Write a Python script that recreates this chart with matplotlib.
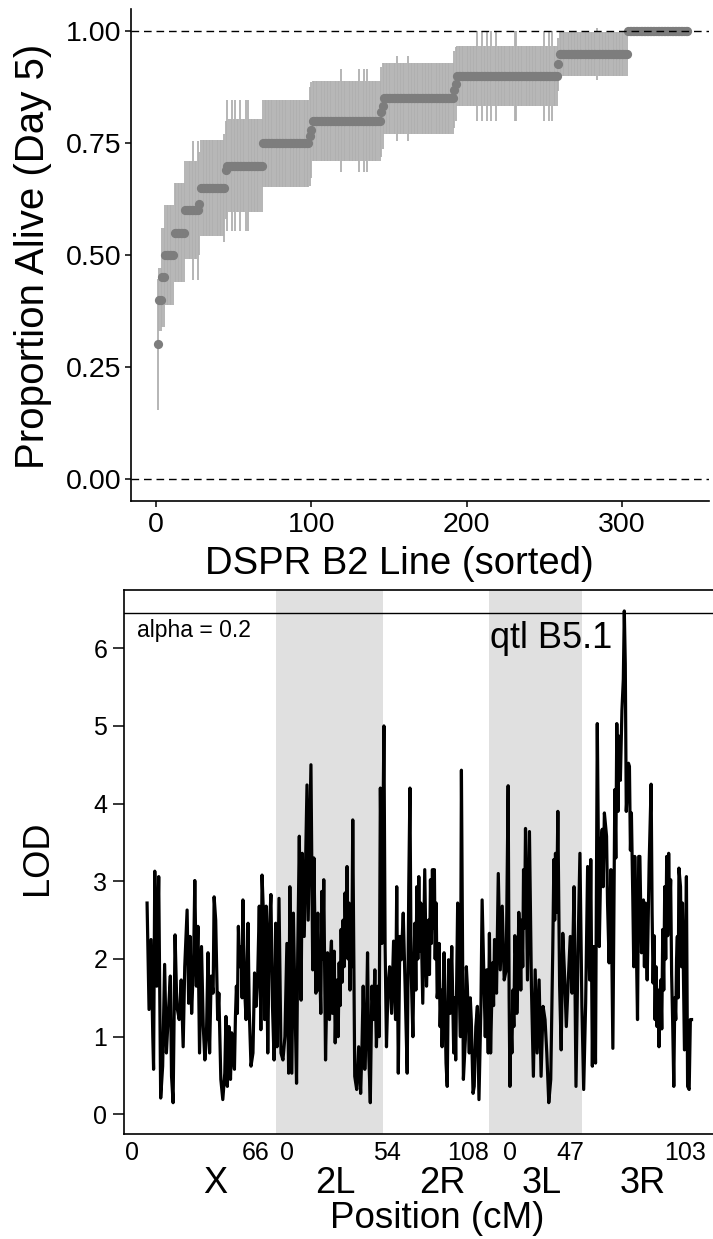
import numpy as np
import matplotlib
matplotlib.use("Agg")
import matplotlib.pyplot as plt
from matplotlib import transforms

plt.rcParams['font.family'] = ['Liberation Sans', 'DejaVu Sans']

# ---- top panel: proportion alive at day 5, lines sorted by value ----
levels = [0.30, 0.40, 0.45, 0.50, 0.55, 0.60, 0.615, 0.65, 0.69, 0.70, 0.75, 0.765,
          0.78, 0.80, 0.82, 0.833, 0.85, 0.87, 0.883, 0.90, 0.926, 0.95, 1.00]
counts = [1, 2, 2, 6, 7, 9, 1, 16, 1, 23, 30, 1, 1, 44, 1, 1, 45, 1, 1, 65, 1, 44, 39]
level_se = [0.146, 0.07, 0.111, 0.112, 0.111, 0.11, 0.115, 0.107, 0.11, 0.103, 0.097, 0.11,
            0.107, 0.089, 0.10, 0.096, 0.080, 0.087, 0.083, 0.067, 0.06, 0.049, 0.0]
# lines with a longer bar than the rest of their level (rank, se)
wide_rank = [24, 27, 44, 46, 49, 51, 54, 58, 59, 119, 131, 134, 136, 155, 162,
             207, 210, 213, 216, 219, 231, 232, 250, 253, 255, 284]
wide_se = [0.155, 0.155, 0.12, 0.147, 0.147, 0.147, 0.147, 0.147, 0.147, 0.115, 0.115, 0.115,
           0.115, 0.095, 0.095, 0.10, 0.10, 0.10, 0.10, 0.10, 0.10, 0.10, 0.10, 0.10, 0.10, 0.058]
top_xticks = [0, 100, 200, 300]
top_yticks = [0.00, 0.25, 0.50, 0.75, 1.00]

# ---- bottom panel: LOD scan, (cumulative cM, LOD) ----
arm_names = ["X", "2L", "2R", "3L", "3R"]
arm_ends = [66, 120, 174, 221, 277]

scan_X = [(0.5, 2.72), (1.5, 1.35), (2.5, 2.25), (3.4, 1.00), (3.8, 0.58), (4.4, 3.13), (5.4, 1.65),
          (6.4, 3.06), (7.4, 0.21), (8.4, 0.62), (9.4, 1.93), (10.3, 0.79), (11.3, 1.30), (12.3, 1.78),
          (12.9, 0.49), (13.7, 0.15), (14.7, 2.31), (15.6, 1.39), (16.8, 1.22), (17.8, 1.73),
          (18.8, 0.87), (19.6, 1.90), (20.8, 2.63), (21.6, 1.43), (22.3, 2.29), (23.1, 1.30),
          (24.1, 1.99), (24.7, 3.01), (25.5, 1.65), (26.3, 2.42), (27.1, 0.79), (28.1, 2.16),
          (29.0, 1.13), (29.8, 0.70), (30.6, 1.00), (31.4, 2.08), (32.2, 0.79), (33.0, 1.78),
          (34.0, 1.56), (34.5, 2.80), (35.3, 2.50), (36.3, 1.22), (36.9, 1.56), (37.9, 0.45),
          (38.9, 0.19), (39.9, 0.53), (40.5, 1.26), (41.2, 0.36), (42.0, 1.13), (42.8, 0.45),
          (43.4, 1.05), (44.0, 0.79), (44.8, 0.58), (45.3, 1.25), (45.8, 1.65), (46.3, 1.30),
          (46.8, 2.42), (47.5, 1.90), (48.3, 2.16), (48.7, 1.50), (49.1, 2.76), (49.9, 1.65),
          (50.7, 1.22), (51.7, 2.46), (52.3, 1.35), (53.2, 0.62), (54.2, 0.79), (55.0, 1.82),
          (55.8, 1.39), (56.6, 1.78), (57.4, 2.68), (58.2, 1.09), (58.8, 3.08), (59.5, 2.59),
          (60.1, 1.22), (60.9, 2.68), (61.7, 0.79), (62.5, 2.38), (63.3, 2.83), (64.1, 1.39),
          (64.9, 0.70), (65.7, 2.46), (66.4, 0.87)]
scan_2L = [(67.4, 2.78), (68.4, 0.79), (69.4, 0.70), (70.4, 1.00), (71.4, 2.20), (72.3, 0.53),
           (72.9, 2.93), (73.9, 0.53), (74.7, 2.59), (75.5, 1.43), (76.3, 0.40), (76.9, 2.08),
           (77.7, 3.58), (78.6, 1.47), (79.2, 3.36), (80.2, 2.29), (81.6, 4.24), (82.2, 2.50),
           (83.6, 4.50), (84.5, 1.86), (85.1, 3.30), (86.1, 1.56), (87.1, 2.59), (87.6, 1.60),
           (88.1, 1.86), (88.6, 1.30), (89.1, 2.87), (89.6, 2.00), (90.1, 3.02), (91.0, 0.70),
           (92.0, 2.08), (92.5, 1.40), (93.0, 1.22), (93.5, 2.00), (94.0, 2.23), (94.5, 1.30),
           (95.0, 1.65), (95.4, 2.10), (95.9, 0.92), (96.4, 1.50), (96.9, 1.73), (97.4, 1.00),
           (97.9, 1.95), (98.4, 1.40), (98.9, 2.38), (99.4, 1.70), (99.9, 2.50), (100.4, 1.90),
           (100.9, 2.85), (101.4, 2.20), (101.9, 3.19), (102.4, 2.00), (102.9, 2.72), (103.4, 1.60),
           (103.8, 2.42), (104.3, 1.90), (104.8, 3.79), (105.8, 0.49), (106.8, 0.32), (107.8, 0.87),
           (108.8, 0.27), (109.4, 0.79), (110.1, 1.65), (110.9, 0.58), (111.7, 1.13), (112.3, 2.08),
           (112.9, 0.79), (113.7, 0.15), (114.5, 1.65), (115.3, 1.22), (116.0, 1.86), (116.8, 0.87),
           (117.6, 1.65), (118.2, 1.00), (118.8, 4.20), (119.6, 2.20)]
scan_2R = [(120.6, 5.00), (121.2, 2.16), (121.9, 0.87), (122.7, 1.65), (123.5, 1.90), (124.5, 1.30),
           (125.5, 2.23), (126.5, 1.22), (127.1, 2.93), (127.9, 0.53), (128.7, 2.29), (129.4, 1.99),
           (130.4, 2.59), (131.4, 1.60), (132.4, 0.53), (133.2, 2.93), (133.8, 4.20), (134.4, 1.86),
           (135.3, 1.00), (135.8, 1.90), (136.3, 2.46), (136.8, 1.60), (137.3, 2.93), (137.8, 2.00),
           (138.3, 3.06), (138.8, 2.10), (139.3, 2.72), (140.3, 1.43), (141.3, 3.15), (142.2, 1.65),
           (143.2, 2.50), (143.7, 1.80), (144.2, 3.02), (144.7, 2.20), (145.2, 3.15), (145.7, 2.40),
           (146.2, 3.15), (146.6, 2.00), (147.1, 2.72), (147.6, 1.50), (148.1, 1.65), (148.6, 2.20),
           (149.1, 1.13), (149.6, 1.60), (150.1, 0.87), (150.6, 1.40), (151.1, 2.08), (152.1, 0.66),
           (152.7, 0.36), (153.4, 1.99), (154.2, 1.30), (155.0, 2.16), (156.0, 0.79), (156.5, 1.50),
           (157.0, 0.70), (158.0, 2.72), (158.6, 1.86), (159.4, 1.00), (159.9, 4.43), (160.9, 0.45),
           (161.9, 0.96), (162.4, 1.90), (162.9, 1.65), (163.9, 0.79), (164.4, 1.50), (164.9, 1.22),
           (165.8, 0.27), (166.4, 0.36), (167.2, 1.13), (168.0, 1.39), (168.8, 0.19), (169.8, 1.39),
           (170.4, 2.76), (171.2, 1.86), (172.0, 1.00), (172.7, 1.86), (173.5, 0.79), (174.1, 2.33)]
scan_3L = [(174.7, 0.79), (175.7, 1.95), (176.2, 1.40), (176.7, 2.25), (177.7, 1.56), (178.6, 3.10),
           (179.6, 1.86), (180.6, 2.68), (181.6, 1.73), (182.6, 1.86), (183.6, 4.23), (184.1, 1.50),
           (184.5, 0.36), (185.0, 1.20), (185.5, 0.79), (186.0, 1.60), (186.5, 1.13), (187.0, 2.30),
           (187.5, 1.99), (188.0, 1.30), (188.5, 1.73), (189.0, 2.60), (189.5, 2.29), (190.0, 1.60),
           (190.5, 2.50), (191.0, 1.90), (191.4, 3.15), (191.9, 2.40), (192.4, 3.68), (193.4, 1.73),
           (194.4, 3.64), (195.4, 1.65), (196.4, 0.49), (197.3, 1.86), (198.3, 0.79), (199.3, 1.73),
           (200.3, 0.49), (201.3, 1.39), (202.3, 1.22), (203.2, 0.79), (204.2, 0.15), (205.2, 0.45),
           (205.7, 1.30), (206.2, 2.08), (206.8, 3.28), (207.2, 2.50), (207.6, 3.36), (208.2, 2.60),
           (208.8, 3.90), (209.7, 1.65), (210.5, 0.83), (211.3, 2.33), (212.1, 1.86), (213.1, 1.13),
           (214.1, 1.73), (215.1, 2.29), (216.0, 1.56), (217.0, 2.93), (218.0, 0.36), (219.0, 2.08),
           (220.0, 3.36), (221.0, 1.39)]
scan_3R = [(221.9, 0.32), (222.9, 1.43), (223.9, 3.19), (224.9, 1.73), (225.5, 3.28), (226.3, 0.62),
           (226.9, 2.16), (227.9, 0.66), (228.8, 5.03), (229.8, 2.16), (230.8, 3.53), (231.3, 3.67),
           (231.8, 2.93), (232.4, 3.88), (233.5, 3.58), (234.0, 2.72), (234.8, 1.95), (235.7, 3.15),
           (236.7, 0.85), (237.7, 4.18), (238.2, 3.30), (238.7, 5.03), (239.3, 3.90), (239.7, 4.87),
           (240.5, 4.30), (241.3, 5.20), (242.0, 5.60), (242.5, 6.48), (243.0, 5.80), (243.5, 3.90),
           (244.6, 4.52), (245.1, 4.48), (245.6, 3.40), (246.1, 3.88), (246.8, 2.80), (247.3, 1.90),
           (247.8, 3.32), (248.4, 2.50), (249.2, 1.22), (249.8, 3.32), (250.4, 3.32), (251.2, 2.08),
           (252.2, 2.76), (252.7, 1.90), (253.2, 2.72), (254.1, 1.73), (255.1, 3.23), (256.1, 4.25),
           (256.6, 2.60), (257.1, 1.69), (257.6, 2.30), (258.1, 1.22), (258.6, 1.90), (259.1, 1.13),
           (259.6, 1.60), (260.1, 0.87), (260.6, 1.50), (261.0, 1.73), (261.5, 1.10), (262.0, 2.38),
           (262.5, 1.60), (263.0, 2.93), (263.5, 2.00), (264.0, 3.32), (264.5, 2.30), (265.0, 3.36),
           (265.5, 2.60), (266.0, 3.02), (266.5, 1.80), (267.0, 1.22), (267.6, 0.36), (268.1, 1.50),
           (268.6, 1.22), (269.0, 2.00), (269.4, 2.29), (269.8, 1.50), (270.2, 3.17), (271.0, 2.93),
           (271.5, 1.90), (272.0, 2.72), (273.0, 0.83), (274.0, 3.06), (274.6, 0.36), (275.4, 0.32),
           (276.0, 1.22), (276.6, 1.22)]
threshold = 6.46
pos_ticks = [-7.3, 55.3, 71.4, 122.2, 163.3, 184.6, 215.0, 273.3]
pos_tick_labels = ["0", "66", "0", "54", "108", "0", "47", "103"]
arm_label_pos = [35.0, 96.0, 150.0, 200.6, 252.0]

W, H = 713, 1239
fig = plt.figure(figsize=(W / 100, H / 100), dpi=100)

# ---------------- top panel ----------------
ax1 = fig.add_axes([130.5 / W, 1 - 501 / H, 578.5 / W, 492 / H])
prop = np.repeat(levels, counts)
se = np.repeat(level_se, counts)
rank = np.arange(1, len(prop) + 1)
se[np.array(wide_rank) - 1] = wide_se

ax1.vlines(rank, prop - se, prop + se, color='#b0b0b0', lw=1.3, zorder=1)
ax1.scatter(rank, prop, s=44, color='#7d7d7d', linewidths=0, zorder=2)
for yy in (0, 1):
    ax1.axhline(yy, color='black', lw=1.0, ls=(0, (5.5, 3.5)), zorder=3)

ax1.set_xlim(-16.4, 356.1)
ax1.set_ylim(-0.05, 1.05)
ax1.set_xticks(top_xticks)
ax1.set_yticks(top_yticks)
ax1.set_yticklabels(["%.2f" % v for v in top_yticks])
ax1.spines['top'].set_visible(False)
ax1.spines['right'].set_visible(False)
for s in ('left', 'bottom'):
    ax1.spines[s].set_linewidth(1.2)
ax1.tick_params(axis='both', length=4, width=1.1, labelsize=20.5, colors='black')
ax1.tick_params(axis='y', pad=2.5)
ax1.tick_params(axis='x', pad=4)

fig.text(33 / W, 1 - 256 / H, "Proportion Alive (Day 5)", rotation=90,
         ha='center', va='center', fontsize=29)
fig.text(399 / W, 1 - 564 / H, "DSPR B2 Line (sorted)", ha='center', va='center',
         fontsize=27.5)

# ---------------- bottom panel ----------------
ax2 = fig.add_axes([124 / W, 1 - 1134.3 / H, 592 / W, 544.3 / H])
starts = [0] + arm_ends[:-1]
for i in (1, 3):
    ax2.axvspan(starts[i], arm_ends[i], color='#e0e0e0', lw=0, zorder=0)

scan = np.array(scan_X + scan_2L + scan_2R + scan_3L + scan_3R)
ax2.plot(scan[:, 0], scan[:, 1], color='black', lw=2.3, zorder=2)
ax2.axhline(threshold, color='black', lw=1.0, zorder=3)

ax2.set_xlim(-11.2, 289.0)
ax2.set_ylim(-0.257, 6.75)
ax2.set_yticks(range(0, 7))
ax2.set_xticks(pos_ticks)
ax2.set_xticklabels(pos_tick_labels)
for s in ax2.spines.values():
    s.set_linewidth(1.2)
ax2.tick_params(axis='y', length=8, width=1.1, labelsize=18, pad=4)
ax2.tick_params(axis='x', length=0, labelsize=18, pad=5)

ax2.text(-4.5, 6.23, "alpha = 0.2", fontsize=16.5, ha='left', va='center')
ax2.text(236.2, 6.13, "qtl B5.1", fontsize=26, ha='right', va='center')

trans = transforms.blended_transform_factory(ax2.transData, fig.transFigure)
for name, xp in zip(arm_names, arm_label_pos):
    ax2.text(xp, 1 - 1183.5 / H, name, transform=trans, ha='center', va='center',
             fontsize=26)
fig.text(437 / W, 1 - 1219 / H, "Position (cM)", ha='center', va='center', fontsize=26.5)
fig.text(37 / W, 1 - 858 / H, "LOD", rotation=90, ha='center', va='center', fontsize=26)

fig.savefig("out.png", dpi=100)
